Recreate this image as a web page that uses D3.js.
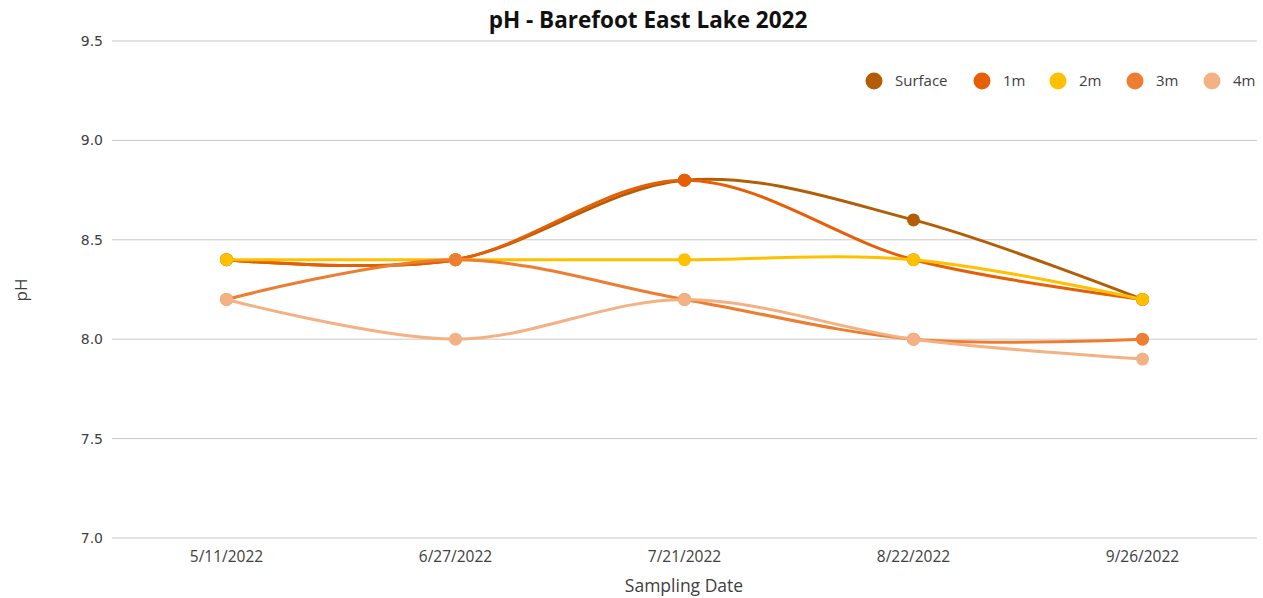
<!DOCTYPE html>
<html>
<head>
<meta charset="utf-8">
<script src="https://cdn.jsdelivr.net/npm/d3@7"></script>
<style>
  html, body { margin: 0; padding: 0; background: #fff; }
  svg { display: block; }
</style>
</head>
<body>
<svg id="chart" width="1263" height="598"></svg>
<script>
// Sampling dates and pH readings per depth
const dates = ["5/11/2022", "6/27/2022", "7/21/2022", "8/22/2022", "9/26/2022"];
const surface = [8.4, 8.4, 8.8, 8.6, 8.2];
const m1 = [8.4, 8.4, 8.8, 8.4, 8.2];
const m2 = [8.4, 8.4, 8.4, 8.4, 8.2];
const m3 = [8.2, 8.4, 8.2, 8.0, 8.0];
const m4 = [8.2, 8.0, 8.2, 8.0, 7.9];
const seriesNames = ["Surface", "1m", "2m", "3m", "4m"];
const yTicks = [7.0, 7.5, 8.0, 8.5, 9.0, 9.5];

const colors = ["#B35E06", "#E65F05", "#FFC000", "#ED7D31", "#F4B183"];
const series = [surface, m1, m2, m3, m4].map((vals, i) => ({
  name: seriesNames[i], color: colors[i], values: vals
}));

const svg = d3.select("#chart");
const margin = { left: 112, right: 6, top: 41, bottom: 60 };
const W = 1263, H = 598;

const x = d3.scaleBand().domain(dates).range([margin.left, W - margin.right]);
const y = d3.scaleLinear().domain([7.0, 9.5]).range([538, margin.top]);
const cx = d => x(d) + x.bandwidth() / 2;

// Horizontal gridlines
svg.append("g")
  .selectAll("line")
  .data(yTicks)
  .join("line")
  .attr("x1", margin.left).attr("x2", W - margin.right)
  .attr("y1", d => y(d)).attr("y2", d => y(d))
  .attr("stroke", "#c8c8c8").attr("stroke-width", 1);

// Y tick labels
svg.append("g")
  .selectAll("text")
  .data(yTicks)
  .join("text")
  .attr("x", 103).attr("y", d => y(d))
  .attr("dy", "0.35em")
  .attr("text-anchor", "end")
  .attr("font-family", "DejaVu Sans, sans-serif")
  .attr("font-size", 14)
  .attr("fill", "#404040")
  .text(d => d.toFixed(1));

// X tick labels
svg.append("g")
  .selectAll("text")
  .data(dates)
  .join("text")
  .attr("x", d => cx(d)).attr("y", 562)
  .attr("text-anchor", "middle")
  .attr("font-family", "Open Sans, sans-serif")
  .attr("font-size", 15.5)
  .attr("fill", "#404040")
  .text(d => d);

// Axis titles
svg.append("text")
  .attr("x", 684).attr("y", 592)
  .attr("text-anchor", "middle")
  .attr("font-family", "Open Sans, sans-serif")
  .attr("font-size", 17.5)
  .attr("fill", "#404040")
  .text("Sampling Date");

svg.append("text")
  .attr("transform", "translate(27,290) rotate(-90)")
  .attr("text-anchor", "middle")
  .attr("font-family", "Open Sans, sans-serif")
  .attr("font-size", 17)
  .attr("fill", "#404040")
  .text("pH");

// Title
svg.append("text")
  .attr("x", 648).attr("y", 28)
  .attr("text-anchor", "middle")
  .attr("font-family", "Open Sans, sans-serif")
  .attr("font-weight", "bold")
  .attr("font-size", 22.5)
  .attr("fill", "#111")
  .text("pH - Barefoot East Lake 2022");

// Smoothed lines with markers
const line = d3.line()
  .x((d, i) => cx(dates[i]))
  .y(d => y(d))
  .curve(d3.curveCardinal.tension(0));

const groups = svg.append("g")
  .selectAll("g")
  .data(series)
  .join("g");

groups.append("path")
  .attr("d", d => line(d.values))
  .attr("fill", "none")
  .attr("stroke", d => d.color)
  .attr("stroke-width", 3)
  .attr("stroke-linecap", "round");

groups.selectAll("circle")
  .data(d => d.values.map((v, i) => ({ v, i, color: d.color })))
  .join("circle")
  .attr("cx", d => cx(dates[d.i]))
  .attr("cy", d => y(d.v))
  .attr("r", 6.5)
  .attr("fill", d => d.color);

// Legend
const legendX = [874, 982, 1058, 1135, 1212];
const legend = svg.append("g")
  .selectAll("g")
  .data(series)
  .join("g")
  .attr("transform", (d, i) => `translate(${legendX[i]},81)`);

legend.append("circle")
  .attr("r", 8.5)
  .attr("fill", d => d.color);

legend.append("text")
  .attr("x", 21).attr("dy", "0.35em")
  .attr("font-family", "Open Sans, sans-serif")
  .attr("font-size", 15)
  .attr("fill", "#404040")
  .text(d => d.name);
</script>
</body>
</html>
